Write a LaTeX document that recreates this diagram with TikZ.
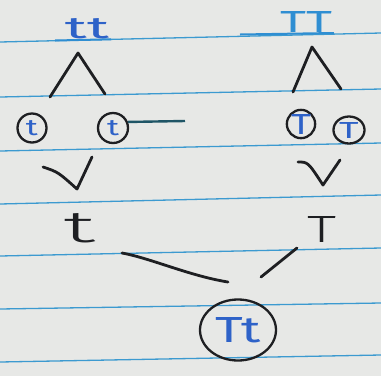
\documentclass[tikz,border=0pt]{standalone}
\usepackage{fontspec}
\setmainfont{Fira Sans Light}
\newfontfamily\regfont{Fira Sans}
\usetikzlibrary{shapes.geometric}
\definecolor{paper}{HTML}{E7E8E6}
\definecolor{rule}{HTML}{3C9AD0}
\definecolor{blueink}{HTML}{2E62C8}
\definecolor{lightblueink}{HTML}{2F8ED2}
\definecolor{ink}{HTML}{1E1F22}
\definecolor{tealink}{HTML}{1F5566}
\newcommand{\hw}[3]{\resizebox{#1}{#2}{#3}}
\tikzset{
  ruleline/.style={draw=rule, line width=1.3pt},
  inkline/.style={draw=ink, line width=2.8pt, line cap=round, line join=round},
  bluetxt/.style={text=blueink, inner sep=0pt},
  blacktxt/.style={text=ink, inner sep=0pt},
  gam/.style={circle, draw=ink, line width=2.3pt, text=blueink, inner sep=0pt, font=\regfont},
  off/.style={ellipse, draw=ink, line width=2.3pt, text=blueink, inner sep=0pt, font=\regfont, minimum width=76pt, minimum height=61pt}
}
\begin{document}
\begin{tikzpicture}[x=1pt,y=-1pt]
\useasboundingbox (0,0) rectangle (381,376);
\fill[paper] (0,0) rectangle (381,376);
\foreach \a/\b in {42/33, 97/89, 151/143, 204/195, 256/248, 309/303, 362/355}
  \draw[ruleline] (0,\a) -- (381,\b);
% underlines in blue ink
\draw[draw=lightblueink, line width=2pt] (55,40.5) -- (111,39.3);
\draw[draw=lightblueink, line width=2pt] (240,34.5) -- (334,33);
% parents
\node[bluetxt, font=\regfont] (tt) at (87,29) {\hw{44pt}{20pt}{tt}};
\node[text=lightblueink, inner sep=0pt, font=\regfont] (TT) at (306,22) {\hw{52pt}{21pt}{TT}};
% splitting lines
\coordinate (la) at (78,53); \coordinate (lb) at (50,97); \coordinate (lc) at (105,94);
\coordinate (ra) at (312,47); \coordinate (rb) at (293,92); \coordinate (rc) at (341,89);
\draw[inkline] (lb) -- (la) -- (lc);
\draw[inkline] (rb) -- (ra) -- (rc);
% gametes
\node[gam, minimum size=29pt] (g1) at (32,128) {\hw{12pt}{15pt}{t}};
\node[gam, minimum size=30pt] (g2) at (113,128) {\hw{12pt}{15pt}{t}};
\node[gam, minimum size=27pt] (g3) at (301,124) {\hw{20pt}{20pt}{T}};
\node[gam, minimum size=27pt, xscale=1.15, transform shape] (g4) at (349,130) {\hw{17pt}{16pt}{T}};
\coordinate (dashend) at (185,121);
\draw[draw=tealink, line width=2.4pt] (g2.22) -- (dashend);
% joining lines
\coordinate (v1a) at (43,167); \coordinate (v1b) at (77,189); \coordinate (v1c) at (92,157);
\coordinate (v2a) at (298,162); \coordinate (v2b) at (323,185); \coordinate (v2c) at (340,160);
\draw[inkline] (v1a) .. controls (58,172) .. (v1b) -- (v1c);
\draw[inkline] (v2a) .. controls (308,162) .. (v2b) -- (v2c);
% chosen gametes
\node[blacktxt] (t) at (80,228) {\hw{32pt}{29pt}{t}};
\node[blacktxt] (T) at (322,229) {\hw{29pt}{26pt}{T}};
% fertilisation
\coordinate (c1) at (122,253); \coordinate (c2) at (228,282);
\coordinate (c3) at (297,248); \coordinate (c4) at (261,277);
\draw[inkline] (c1) .. controls (150,258) and (190,276) .. (c2);
\draw[inkline] (c3) -- (c4);
% offspring
\node[off] (Tt) at (238,330) {\hw{45pt}{25pt}{Tt}};
\end{tikzpicture}
\end{document}
